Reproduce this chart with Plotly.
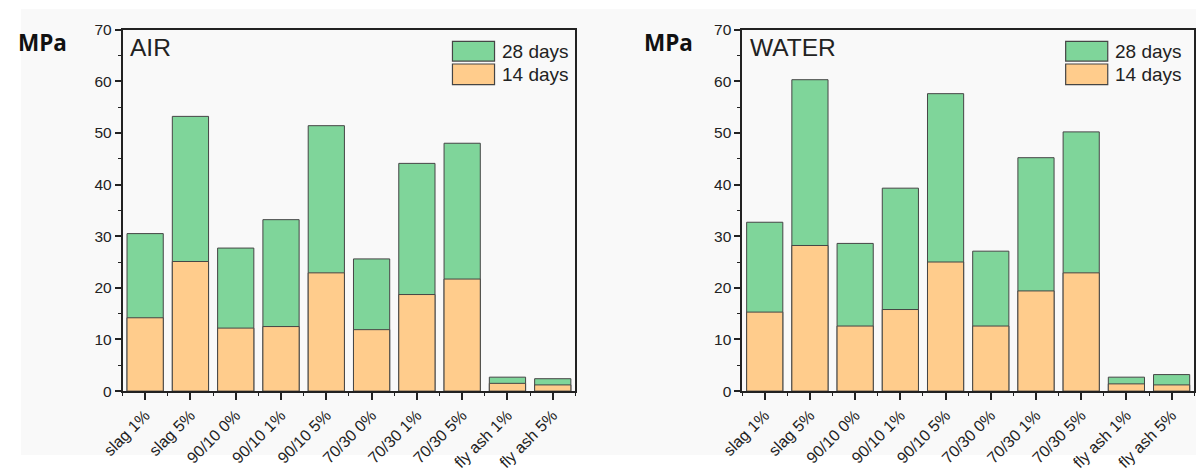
import plotly.graph_objects as go

W, H = 1196, 471

categories = ["slag 1%", "slag 5%", "90/10 0%", "90/10 1%", "90/10 5%",
              "70/30 0%", "70/30 1%", "70/30 5%", "fly ash 1%", "fly ash 5%"]
air_14 = [14.2, 25.1, 12.2, 12.5, 22.9, 11.9, 18.7, 21.7, 1.5, 1.2]
air_28 = [30.5, 53.2, 27.7, 33.2, 51.4, 25.6, 44.1, 48.0, 2.7, 2.4]
water_14 = [15.3, 28.2, 12.6, 15.8, 25.0, 12.6, 19.4, 22.9, 1.4, 1.2]
water_28 = [32.7, 60.3, 28.6, 39.3, 57.6, 27.1, 45.2, 50.2, 2.7, 3.2]
y_ticks = [0, 10, 20, 30, 40, 50, 60, 70]

GREEN = "#7fd59a"
ORANGE = "#ffcc8c"
EDGE = "#454545"
INK = "#222222"
FONT = "Liberation Sans"

# target pixel positions (reference) -> paper fractions, compensating the observed rendering offset
def fx(x):
    v = (x - 20.4) / 0.9805 / W
    return min(max(v, 0.0), 1.0)

def fy(y):
    v = 1 - ((y - 9) / 0.964) / H
    return min(max(v, 0.0), 1.0)

xpos = list(range(len(categories)))

fig = go.Figure()
for xa, ya, d28, d14 in [("x", "y", air_28, air_14), ("x2", "y2", water_28, water_14)]:
    fig.add_trace(go.Bar(x=xpos, y=d28, name="28 days", xaxis=xa, yaxis=ya,
                         marker=dict(color=GREEN, line=dict(color=EDGE, width=1)),
                         width=0.8, showlegend=False))
    fig.add_trace(go.Bar(x=xpos, y=d14, name="14 days", xaxis=xa, yaxis=ya,
                         marker=dict(color=ORANGE, line=dict(color=EDGE, width=1)),
                         width=0.8, showlegend=False))

ycommon = dict(range=[0, 70], tickvals=y_ticks, ticks="outside", ticklen=6, tickwidth=1.5,
               tickcolor=INK, showline=True, linewidth=1.5, linecolor=INK, mirror=True,
               showgrid=False, zeroline=False, tickfont=dict(family=FONT, size=15.5, color=INK),
               minor=dict(dtick=5, tick0=0, ticks="outside", ticklen=3, tickwidth=1.2, tickcolor=INK),
               domain=[fy(398), fy(30)])
xcommon = dict(range=[-0.5, 9.5], tickvals=xpos, ticktext=categories, tickangle=-45,
               ticks="outside", ticklen=7, tickwidth=1.5, tickcolor=INK,
               showline=True, linewidth=1.5, linecolor=INK, mirror=True,
               showgrid=False, zeroline=False, tickfont=dict(family=FONT, size=16, color=INK),
               minor=dict(tick0=0.5, dtick=1, ticks="outside", ticklen=3, tickwidth=1.2, tickcolor=INK))

shapes = [
    dict(type="rect", xref="paper", yref="paper", x0=fx(6), x1=1, y0=fy(468), y1=fy(7),
         fillcolor="#f9f9f9", line=dict(width=0), layer="below"),
]
annotations = []
panels = [
    dict(title="AIR", title_x=127, mpa_x=42, sw_x0=451, sw_x1=493, txt_x=498),
    dict(title="WATER", title_x=746, mpa_x=667, sw_x0=1063, sw_x1=1105, txt_x=1110),
]
for p in panels:
    shapes.append(dict(type="rect", xref="paper", yref="paper", x0=fx(p["sw_x0"]), x1=fx(p["sw_x1"]),
                       y0=fy(62), y1=fy(42), fillcolor=GREEN, line=dict(color=EDGE, width=1.2)))
    shapes.append(dict(type="rect", xref="paper", yref="paper", x0=fx(p["sw_x0"]), x1=fx(p["sw_x1"]),
                       y0=fy(86), y1=fy(65), fillcolor=ORANGE, line=dict(color=EDGE, width=1.2)))
    annotations.append(dict(text="28 days", xref="paper", yref="paper", x=fx(p["txt_x"]), y=fy(52),
                            xanchor="left", yanchor="middle", showarrow=False,
                            font=dict(family=FONT, size=19, color=INK)))
    annotations.append(dict(text="14 days", xref="paper", yref="paper", x=fx(p["txt_x"]), y=fy(75.5),
                            xanchor="left", yanchor="middle", showarrow=False,
                            font=dict(family=FONT, size=19, color=INK)))
    annotations.append(dict(text=p["title"], xref="paper", yref="paper", x=fx(p["title_x"]), y=fy(48),
                            xanchor="left", yanchor="middle", showarrow=False,
                            font=dict(family=FONT, size=24.5, color=INK)))
    annotations.append(dict(text="<b>MPa</b>", xref="paper", yref="paper", x=fx(p["mpa_x"]), y=fy(43),
                            xanchor="center", yanchor="middle", showarrow=False,
                            font=dict(family="Open Sans", size=22.5, color="#111111")))

fig.update_layout(
    width=W, height=H, margin=dict(l=0, r=0, t=0, b=0),
    paper_bgcolor="white", plot_bgcolor="rgba(0,0,0,0)",
    barmode="overlay", showlegend=False,
    xaxis=dict(xcommon, domain=[fx(121.7), fx(573.7)], anchor="y"),
    yaxis=dict(ycommon, anchor="x"),
    xaxis2=dict(xcommon, domain=[fx(740.1), fx(1191.3)], anchor="y2"),
    yaxis2=dict(ycommon, anchor="x2"),
    shapes=shapes, annotations=annotations,
)

fig.write_html("out.html")
